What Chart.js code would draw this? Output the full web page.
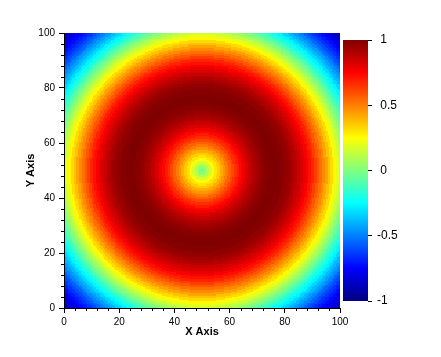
<!DOCTYPE html>
<html>
<head>
<meta charset="utf-8">
<script src="https://cdn.jsdelivr.net/npm/chart.js@4"></script>
<style>
html, body { margin: 0; padding: 0; background: #fff; }
#wrap { position: relative; width: 441px; height: 357px; }
#main { position: absolute; left: 0; top: 0; }
#cbar { position: absolute; left: 330px; top: 0; }
</style>
</head>
<body>
<div id="wrap">
  <canvas id="main" width="441" height="357"></canvas>
  <canvas id="cbar" width="111" height="357"></canvas>
</div>
<script>
// ---- data ----
const xRange = [0, 100];
const yRange = [0, 100];
const xTickLabels = [0, 20, 40, 60, 80, 100];
const yTickLabels = [0, 20, 40, 60, 80, 100];
const minorTickStep = 4;
const centre = [50, 50];
const cellSize = 0.5;
// z value read along a radius from the centre, one sample per axis unit (index = distance)
const zByRadius = [
  -0.06, 0.02, 0.10, 0.17, 0.24, 0.30, 0.35, 0.41, 0.46, 0.51,
  0.56, 0.61, 0.66, 0.70, 0.74, 0.78, 0.82, 0.85, 0.88, 0.91,
  0.93, 0.95, 0.97, 0.98, 0.99, 1.00, 1.00, 1.00, 0.99, 0.99,
  0.97, 0.96, 0.94, 0.92, 0.89, 0.86, 0.83, 0.80, 0.76, 0.72,
  0.68, 0.63, 0.58, 0.53, 0.48, 0.43, 0.37, 0.32, 0.26, 0.20,
  0.14, 0.08, 0.02, -0.04, -0.10, -0.16, -0.22, -0.27, -0.33, -0.39,
  -0.44, -0.49, -0.55, -0.60, -0.65, -0.69, -0.73, -0.77, -0.81, -0.84,
  -0.87, -0.90
];
const colorbarTicks = [-1, -0.5, 0, 0.5, 1];
const zRange = [-1, 1];

// ---- colour map (jet) ----
const jetStops = [
  [-1.00, [0, 0, 128]],
  [-0.75, [0, 0, 255]],
  [-0.25, [0, 255, 255]],
  [ 0.25, [255, 255, 0]],
  [ 0.75, [255, 0, 0]],
  [ 1.00, [128, 0, 0]]
];
function jet(v) {
  if (v <= jetStops[0][0]) return 'rgb(' + jetStops[0][1].join(',') + ')';
  for (let k = 1; k < jetStops.length; k++) {
    const [v1, c1] = jetStops[k];
    const [v0, c0] = jetStops[k - 1];
    if (v <= v1) {
      const t = (v - v0) / (v1 - v0);
      const c = c0.map((a, i) => Math.round(a + (c1[i] - a) * t));
      return 'rgb(' + c.join(',') + ')';
    }
  }
  return 'rgb(' + jetStops[jetStops.length - 1][1].join(',') + ')';
}

// grid cell lower-left corners (categories of the heat map)
const xCells = [];
for (let v = xRange[0]; v < xRange[1]; v += cellSize) xCells.push(v);
const yCells = [];
for (let v = yRange[0]; v < yRange[1]; v += cellSize) yCells.push(v);

function cellValue(cx, cy) {
  const r = Math.hypot(cx - centre[0], cy - centre[1]);
  const idx = Math.min(zByRadius.length - 1, Math.round(r));
  return zByRadius[idx];
}

Chart.defaults.font.family = "'Liberation Sans', Arial, sans-serif";
Chart.defaults.color = '#000';

const heatmapPlugin = {
  id: 'heatmap',
  beforeDraw(chart) {
    const { ctx, scales: { x, y } } = chart;
    ctx.save();
    for (const cx of xCells) {
      const x0 = Math.round(x.getPixelForValue(cx));
      const x1 = Math.round(x.getPixelForValue(cx + cellSize));
      if (x1 <= x0) continue;
      for (const cy of yCells) {
        const y0 = Math.round(y.getPixelForValue(cy + cellSize));
        const y1 = Math.round(y.getPixelForValue(cy));
        if (y1 <= y0) continue;
        ctx.fillStyle = jet(cellValue(cx + cellSize / 2, cy + cellSize / 2));
        ctx.fillRect(x0, y0, x1 - x0, y1 - y0);
      }
    }
    ctx.restore();
  }
};

const minorTickPlugin = {
  id: 'minorTicks',
  afterDraw(chart) {
    const { ctx, chartArea: a, scales: { x, y } } = chart;
    ctx.save();
    ctx.strokeStyle = '#000';
    ctx.lineWidth = 1;
    ctx.beginPath();
    for (let v = xRange[0]; v <= xRange[1]; v += minorTickStep) {
      if (xTickLabels.includes(v)) continue;
      const px = Math.round(x.getPixelForValue(v)) + 0.5;
      ctx.moveTo(px, a.bottom);
      ctx.lineTo(px, a.bottom + 3);
    }
    for (let v = yRange[0]; v <= yRange[1]; v += minorTickStep) {
      if (yTickLabels.includes(v)) continue;
      const py = Math.round(y.getPixelForValue(v)) + 0.5;
      ctx.moveTo(a.left, py);
      ctx.lineTo(a.left - 3, py);
    }
    ctx.stroke();
    ctx.restore();
  }
};

new Chart(document.getElementById('main'), {
  type: 'scatter',
  data: { datasets: [{ data: [], pointRadius: 0 }] },
  options: {
    responsive: false,
    animation: false,
    events: [],
    layout: { padding: { left: 0, top: 33, right: 101, bottom: 0 } },
    plugins: { legend: { display: false }, tooltip: { enabled: false } },
    scales: {
      x: {
        type: 'linear', min: xRange[0], max: xRange[1],
        afterBuildTicks: s => { s.ticks = xTickLabels.map(v => ({ value: v })); },
        ticks: { font: { size: 10 }, color: '#000', padding: 3, maxRotation: 0, autoSkip: false,
                 callback: v => String(v) },
        grid: { drawOnChartArea: false, tickLength: 5, tickColor: '#000' },
        border: { display: true, color: '#000', width: 1 },
        title: { display: true, text: 'X Axis', color: '#000',
                 font: { size: 11, weight: 'bold' }, padding: { top: 0, bottom: 18 } },
        afterFit: s => { s.height = 49; }
      },
      y: {
        type: 'linear', min: yRange[0], max: yRange[1],
        afterBuildTicks: s => { s.ticks = yTickLabels.map(v => ({ value: v })); },
        ticks: { font: { size: 10 }, color: '#000', padding: 4, autoSkip: false,
                 callback: v => String(v) },
        grid: { drawOnChartArea: false, tickLength: 5, tickColor: '#000' },
        border: { display: true, color: '#000', width: 1 },
        title: { display: true, text: 'Y Axis', color: '#000',
                 font: { size: 11, weight: 'bold' }, padding: { top: 24, bottom: 0 } },
        afterFit: s => { s.width = 64; }
      }
    }
  },
  plugins: [heatmapPlugin, minorTickPlugin]
});

const colorbarPlugin = {
  id: 'colorbar',
  beforeDraw(chart) {
    const { ctx, chartArea: a, scales: { y } } = chart;
    ctx.save();
    const top = Math.round(y.getPixelForValue(zRange[1]));
    const bottom = Math.round(y.getPixelForValue(zRange[0]));
    for (let py = top; py < bottom; py++) {
      ctx.fillStyle = jet(y.getValueForPixel(py + 0.5));
      ctx.fillRect(Math.round(a.left), py, Math.round(a.right) - Math.round(a.left), 1);
    }
    ctx.restore();
  }
};

new Chart(document.getElementById('cbar'), {
  type: 'scatter',
  data: { datasets: [{ data: [], pointRadius: 0 }] },
  options: {
    responsive: false,
    animation: false,
    events: [],
    layout: { padding: { left: 13, top: 40, right: 0, bottom: 56 } },
    plugins: { legend: { display: false }, tooltip: { enabled: false } },
    scales: {
      x: { type: 'linear', display: false, min: 0, max: 1 },
      y: {
        type: 'linear', position: 'right', min: zRange[0], max: zRange[1],
        afterBuildTicks: s => { s.ticks = colorbarTicks.map(v => ({ value: v })); },
        ticks: { font: { size: 12 }, color: '#000', padding: 5, autoSkip: false,
                 callback: v => (v < 0 ? '' : ' ') + String(v) },
        grid: { drawOnChartArea: false, tickLength: 4, tickColor: '#000' },
        border: { display: false },
        afterFit: s => { s.width = 73; }
      }
    }
  },
  plugins: [colorbarPlugin]
});
</script>
</body>
</html>
